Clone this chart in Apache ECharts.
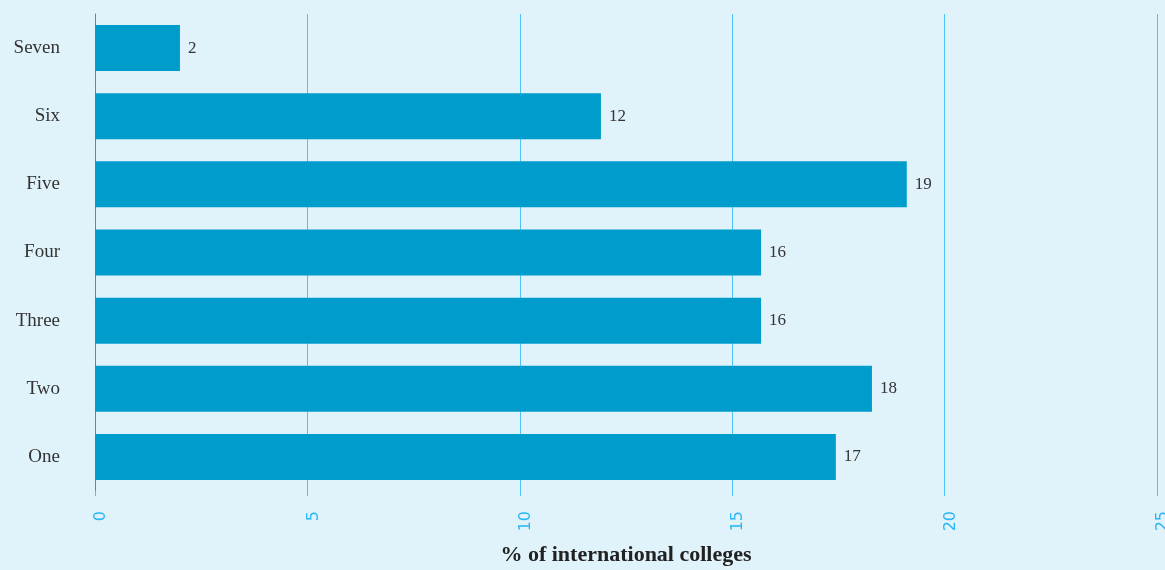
<!DOCTYPE html>
<html>
<head>
<meta charset="utf-8">
<script src="https://cdn.jsdelivr.net/npm/echarts@6/dist/echarts.min.js"></script>
<style>
html,body{margin:0;padding:0;background:#e0f3fb;}
#c{width:1165px;height:570px;}
</style>
</head>
<body>
<div id="c"></div>
<script>
const categories = ['One', 'Two', 'Three', 'Four', 'Five', 'Six', 'Seven'];
const values = [17.44, 18.29, 15.68, 15.68, 19.11, 11.91, 2.0];
const xTicks = { min: 0, max: 25, interval: 5 };
const xName = '% of international colleges';

const chart = echarts.init(document.getElementById('c'));
chart.setOption({
  backgroundColor: '#e0f3fb',
  animation: false,
  grid: { left: 95, right: 8, top: 14, bottom: 79, containLabel: false, outerBoundsMode: 'none' },
  xAxis: {
    type: 'value',
    min: xTicks.min, max: xTicks.max, interval: xTicks.interval,
    name: xName,
    nameLocation: 'middle',
    nameGap: 53,
    nameTextStyle: { fontFamily: 'Liberation Serif', fontSize: 22, fontWeight: 'bold', color: '#222' },
    axisLine: { show: false },
    axisTick: { show: true, length: 5, lineStyle: { color: '#4fc3f7', width: 1 } },
    axisLabel: { rotate: 90, margin: 20, color: '#29b6f6', fontFamily: 'DejaVu Sans', fontSize: 16, verticalAlign: 'top', lineHeight: 12 },
    splitLine: { show: true, lineStyle: { color: '#4fc3f7', width: 1 } }
  },
  yAxis: {
    type: 'category',
    data: categories,
    axisLine: { show: true, lineStyle: { color: '#1a9fd9', width: 1 } },
    axisTick: { show: false },
    axisLabel: { margin: 35, color: '#333', fontFamily: 'Liberation Serif', fontSize: 19 }
  },
  series: [{
    type: 'bar',
    data: values,
    barWidth: 46,
    itemStyle: { color: '#009ccc' },
    label: {
      show: true, position: 'right', distance: 8,
      color: '#333', fontFamily: 'Liberation Serif', fontSize: 17,
      formatter: p => Math.round(p.value)
    }
  }]
});
</script>
</body>
</html>
